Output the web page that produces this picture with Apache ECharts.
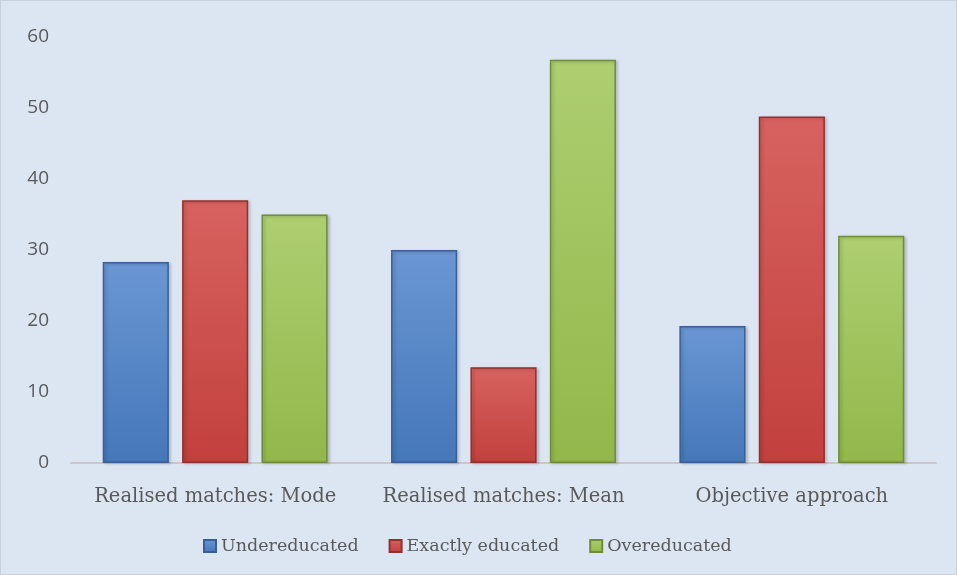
<!DOCTYPE html>
<html lang="en">
<head>
    <meta charset="utf-8">
    <title>Education mismatch</title>
    <script src="https://cdn.jsdelivr.net/npm/echarts@6.0.0/dist/echarts.min.js"></script>
    <style>
        html, body { margin: 0; padding: 0; background: #ffffff; }
        #chart {
            width: 955px; height: 573px;
            border: 1px solid #c9d2dc;
            background: #dce6f2;
        }
    </style>
</head>
<body>
<div id="chart"></div>
<script type="text/javascript">
    var categories = ['Realised matches: Mode', 'Realised matches: Mean', 'Objective approach'];
    var seriesNames = ['Undereducated', 'Exactly educated', 'Overeducated'];
    var undereducated = [28.3, 30, 19.3];
    var exactlyEducated = [37, 13.5, 48.8];
    var overeducated = [35, 56.8, 32];
    var yTicks = { min: 0, max: 60, interval: 10 };

    // colours: top, bottom, dark edge
    var palette = [
        ['#6a96d4', '#4577b9', '#385f99'],
        ['#d7625f', '#c2403d', '#932f2c'],
        ['#aece70', '#93b74b', '#6f8c36']
    ];

    function barStyle(c) {
        return {
            color: {
                type: 'linear', x: 0, y: 0, x2: 0, y2: 1,
                colorStops: [
                    { offset: 0, color: c[0] },
                    { offset: 1, color: c[1] }
                ]
            },
            borderColor: c[2],
            borderWidth: 1.5,
            shadowColor: 'rgba(0,0,0,0.2)',
            shadowBlur: 3,
            shadowOffsetX: 2,
            shadowOffsetY: 1
        };
    }

    var myChart = echarts.init(document.getElementById('chart'));
    var values = [undereducated, exactlyEducated, overeducated];

    myChart.setOption({
        animation: false,
        grid: { left: 70, right: 20, top: 36, bottom: 111 },
        legend: {
            bottom: 14,
            left: 197,
            itemWidth: 12,
            itemHeight: 12,
            itemGap: 30,
            icon: 'rect',
            textStyle: { fontFamily: 'DejaVu Serif', fontSize: 17.5, color: '#595959' },
            data: seriesNames
        },
        xAxis: {
            type: 'category',
            data: categories,
            axisLine: { lineStyle: { color: '#c8c8c8', width: 2 } },
            axisTick: { show: false },
            axisLabel: { interval: 0, fontFamily: 'DejaVu Serif', fontSize: 19.5, color: '#595959', margin: 24 }
        },
        yAxis: {
            type: 'value',
            min: yTicks.min,
            max: yTicks.max,
            interval: yTicks.interval,
            splitLine: { show: false },
            axisLine: { show: false },
            axisTick: { show: false },
            axisLabel: { fontFamily: 'Open Sans', fontSize: 19, color: '#595959', margin: 22 }
        },
        series: seriesNames.map(function (name, i) {
            return {
                name: name,
                type: 'bar',
                barGap: '20%',
                barCategoryGap: '22%',
                itemStyle: barStyle(palette[i]),
                data: values[i]
            };
        })
    });
</script>
</body>
</html>
